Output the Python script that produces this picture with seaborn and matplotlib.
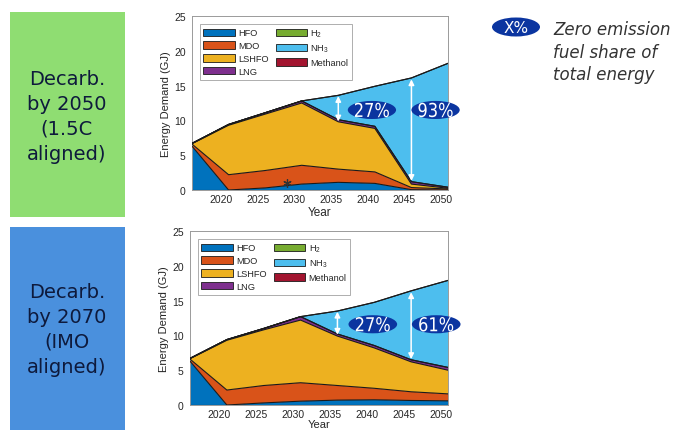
import numpy as np
import pandas as pd
import matplotlib
matplotlib.use("Agg")
import matplotlib.pyplot as plt
import seaborn as sns
from matplotlib.patches import Ellipse, Rectangle, Patch, PathPatch
from matplotlib.textpath import TextPath
from matplotlib.font_manager import FontProperties
from matplotlib.transforms import Affine2D

# ---------------- data ----------------
years = [2016, 2021, 2026, 2031, 2036, 2041, 2046, 2051]
fuels = ["HFO", "MDO", "LSHFO", "LNG", "H$_2$", "NH$_3$", "Methanol"]
colors = ["#0072BD", "#D95319", "#EDB120", "#7E2F8E", "#77AC30", "#4DBEEE", "#A2142F"]

# Decarb. by 2050 (1.5C aligned)
s1_hfo = [6.3, 0.0, 0.3, 0.85, 1.1, 0.95, 0.05, 0.0]
s1_mdo = [0.3, 2.2, 2.5, 2.7, 1.9, 1.65, 0.3, 0.15]
s1_lshfo = [0.05, 7.1, 8.1, 8.95, 6.8, 6.25, 0.5, 0.1]
s1_lng = [0.05, 0.12, 0.2, 0.3, 0.3, 0.3, 0.35, 0.15]
s1_h2 = [0, 0, 0, 0, 0, 0, 0, 0]
s1_nh3 = [0, 0, 0, 0, 3.5, 5.75, 14.9, 17.8]
s1_meoh = [0, 0, 0, 0, 0, 0, 0, 0]

# Decarb. by 2070 (IMO aligned)
s2_hfo = [6.3, 0.0, 0.3, 0.55, 0.7, 0.75, 0.65, 0.6]
s2_mdo = [0.3, 2.15, 2.5, 2.65, 2.1, 1.65, 1.25, 1.0]
s2_lshfo = [0.05, 7.15, 8.0, 9.0, 7.1, 5.8, 4.3, 3.4]
s2_lng = [0.05, 0.1, 0.2, 0.5, 0.3, 0.35, 0.3, 0.4]
s2_h2 = [0, 0, 0, 0, 0, 0, 0, 0]
s2_nh3 = [0, 0, 0, 0, 3.3, 6.2, 9.9, 12.5]
s2_meoh = [0, 0, 0, 0, 0, 0, 0, 0]

scen1 = [s1_hfo, s1_mdo, s1_lshfo, s1_lng, s1_h2, s1_nh3, s1_meoh]
scen2 = [s2_hfo, s2_mdo, s2_lshfo, s2_lng, s2_h2, s2_nh3, s2_meoh]

box_texts = ["Decarb.\nby 2050\n(1.5C\naligned)", "Decarb.\nby 2070\n(IMO\naligned)"]
share_labels = [("27%", "93%"), ("27%", "61%")]
xticks = [2020, 2025, 2030, 2035, 2040, 2045, 2050]
yticks = [0, 5, 10, 15, 20, 25]

# ---------------- style ----------------
sns.set_theme(style="white")
plt.rcParams["font.family"] = ["Liberation Sans", "DejaVu Sans"]
plt.rcParams["mathtext.fontset"] = "custom"
plt.rcParams["mathtext.rm"] = "Liberation Sans"
plt.rcParams["mathtext.it"] = "Liberation Sans:italic"

W, H = 673, 431
DPI = 100
fig = plt.figure(figsize=(W / DPI, H / DPI), dpi=DPI)
fig.patch.set_facecolor("white")

def fx(px):
    return px / W

def fy(py):
    return 1 - py / H

ell_prop = FontProperties(family="DejaVu Sans")
ref_path = TextPath((0, 0), "27%", size=10, prop=ell_prop)
ref_ext = ref_path.get_extents()
SY = 14.5 / ref_ext.height          # target glyph height in pixels
SX = 34.0 / ref_ext.width           # target width in pixels (condensed look)


def stretched_text(fig, ax, x, y, s, color="white", zorder=8):
    """Draw condensed text centred at data point (x, y) as a path."""
    p = TextPath((0, 0), s, size=10, prop=ell_prop)
    ext = p.get_extents()
    cx = (ext.x0 + ext.x1) / 2
    cy = (ext.y0 + ext.y1) / 2
    px, py = ax.transData.transform((x, y))
    tr = Affine2D().translate(-cx, -cy).scale(SX, SY).translate(px, py)
    patch = PathPatch(p, facecolor=color, edgecolor="none", transform=tr,
                      zorder=zorder)
    patch.set_clip_on(False)
    fig.add_artist(patch)


# left coloured boxes
box_specs = [((10, 13, 125, 218), "#8FDD72", 117), ((10, 228, 125, 431), "#4A90DD", 330)]
for (x0, y0, x1, y1), col, ty in box_specs:
    fig.add_artist(Rectangle((fx(x0), fy(y1)), fx(x1 - x0), (y1 - y0) / H,
                             transform=fig.transFigure, facecolor=col, edgecolor="none"))
for (spec, col, ty), txt in zip(box_specs, box_texts):
    fig.text(fx(67), fy(ty), txt, ha="center", va="center", fontsize=14,
             color="#0E1A3C", family="DejaVu Sans", linespacing=1.38)

# chart axes
ax_specs = [(192, 17, 448, 191), (190, 232, 448, 406)]
arrows = [((2036, 13.5, 9.85), (2046, 15.9, 1.3)), ((2036, 13.4, 10.1), (2046, 16.2, 6.6))]
ell_pos = [((2040.6, 11.5), (2049.3, 11.5)), ((2040.8, 11.6), (2049.4, 11.6))]

for i, ((x0, y0, x1, y1), scen) in enumerate(zip(ax_specs, [scen1, scen2])):
    ax = fig.add_axes([fx(x0), fy(y1), fx(x1 - x0), (y1 - y0) / H])
    ax.set_facecolor("white")
    cum = np.zeros(len(years))
    for vals, col in zip(scen, colors):
        top = cum + np.array(vals, dtype=float)
        ax.fill_between(years, cum, top, facecolor=col, edgecolor="none", zorder=2)
        cum = top
    # edges of each stacked layer
    cum = np.zeros(len(years))
    for vals in scen:
        top = cum + np.array(vals, dtype=float)
        sns.lineplot(x=years, y=top, color="#1a1a1a", lw=0.8, ax=ax, zorder=3)
        cum = top
    sns.lineplot(x=years, y=np.zeros(len(years)), color="#1a1a1a", lw=0.8, ax=ax, zorder=3)

    ax.set_xlim(2016, 2051)
    ax.set_ylim(0, 25)
    ax.set_xticks(xticks)
    ax.set_yticks(yticks)
    ax.tick_params(axis="both", labelsize=7.5, colors="#262626", direction="in",
                   length=2.5, width=0.6, pad=3)
    ax.tick_params(axis="y", pad=4.5)
    ax.tick_params(axis="both", which="both", color="#888888")
    for sp in ax.spines.values():
        sp.set_color("#9a9a9a")
        sp.set_linewidth(0.7)
    ax.set_xlabel("Year", fontsize=(8.5 if i == 0 else 8), color="#262626",
                  labelpad=(1 if i == 0 else 0))
    ax.set_ylabel("Energy Demand (GJ)", fontsize=8, color="#262626", labelpad=2)

    # legend
    handles = [Patch(facecolor=c, edgecolor="#1a1a1a", linewidth=0.6, label=f)
               for f, c in zip(fuels, colors)]
    leg = ax.legend(handles=handles, ncol=2, loc="upper left",
                    bbox_to_anchor=(0.03, 0.955), fontsize=6.7, frameon=True,
                    fancybox=False, edgecolor="#8a8a8a", handlelength=3.4,
                    handleheight=0.8, labelspacing=0.42, columnspacing=0.75,
                    handletextpad=0.35, borderpad=0.38, borderaxespad=0)
    leg.get_frame().set_linewidth(0.6)
    leg.set_zorder(5)

    # white double arrows
    for (xa, ya, yb) in arrows[i]:
        ax.annotate("", xy=(xa, yb), xytext=(xa, ya),
                    arrowprops=dict(arrowstyle="<|-|>", color="white", lw=1.1,
                                    mutation_scale=8, shrinkA=0, shrinkB=0),
                    zorder=6)
    # share ellipses
    for (cx, cy), lab in zip(ell_pos[i], share_labels[i]):
        e = Ellipse((cx, cy), 6.6, 2.6, facecolor="#0B35A0", edgecolor="none",
                    zorder=7, clip_on=False)
        ax.add_patch(e)
        stretched_text(fig, ax, cx, cy, lab)

    if i == 0:
        ax.plot([2029], [1.0], marker=(6, 2, 0), ms=6, color="#333333",
                mew=0.9, zorder=6, clip_on=False)

# right-hand key
fig.add_artist(Ellipse((fx(516), fy(28)), fx(48), 19 / H, transform=fig.transFigure,
                       facecolor="#0B35A0", edgecolor="none"))
fig.text(fx(516), fy(28.5), "X%", ha="center", va="center", color="white",
         fontsize=11, family="DejaVu Sans")
fig.text(fx(553), fy(52.5), "Zero emission\nfuel share of\ntotal energy", ha="left",
         va="center", fontsize=12, style="italic", color="#333333",
         family="DejaVu Sans", linespacing=1.3)

fig.savefig("out.png", dpi=DPI, facecolor="white")
